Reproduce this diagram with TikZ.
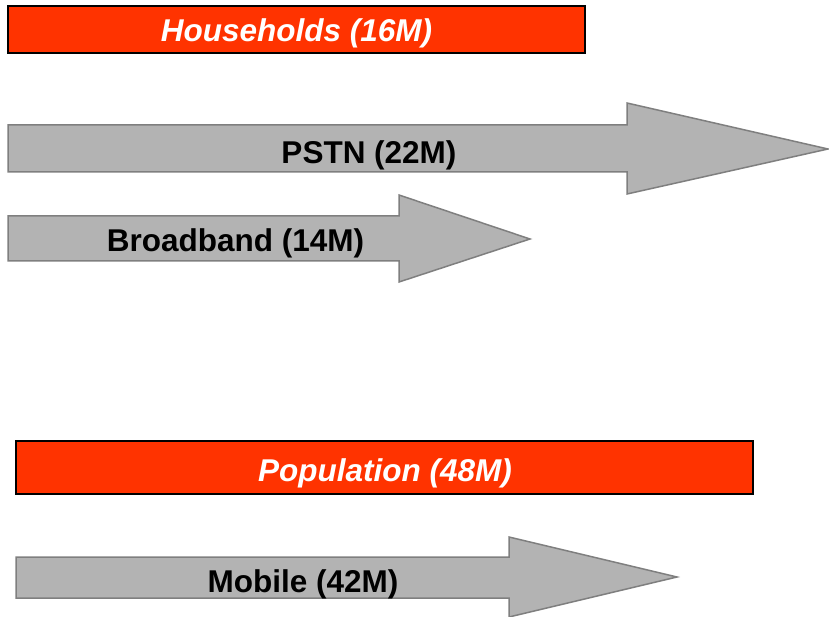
\documentclass[tikz,border=0pt]{standalone}
\usepackage{fontspec}
\setmainfont{Liberation Sans}
\definecolor{barred}{HTML}{FF3300}
\definecolor{arrowgray}{HTML}{B3B3B3}
\definecolor{arrowedge}{HTML}{7F7F7F}
\begin{document}
\begin{tikzpicture}[x=1pt,y=-1pt,
  bar/.style={fill=barred,draw=black,line width=2pt},
  bigarrow/.style={fill=arrowgray,draw=arrowedge,line width=1.5pt,line join=miter},
  bartext/.style={text=white,font=\fontsize{31.5}{36}\selectfont\bfseries\itshape,anchor=base,inner sep=0pt},
  arrowtext/.style={text=black,font=\fontsize{31.5}{36}\selectfont\bfseries,anchor=base,inner sep=0pt}]
\useasboundingbox (0,0) rectangle (829,617);
% Households bar
\draw[bar] (8,6) rectangle (585,53);
\node[bartext] (hh) at (296.5,42) {Households (16M)};
% PSTN arrow
\draw[bigarrow] (8,125) -- (627,125) -- (627,103) -- (828,149) -- (627,194) -- (627,172) -- (8,172) -- cycle;
\node[arrowtext] (pstn) at (369,164) {PSTN (22M)};
% Broadband arrow
\draw[bigarrow] (8,216) -- (399,216) -- (399,195) -- (530,239) -- (399,282) -- (399,261) -- (8,261) -- cycle;
\node[arrowtext] (bb) at (235.5,252) {Broadband (14M)};
% Population bar
\draw[bar] (16,441) rectangle (753,494);
\node[bartext] (pop) at (385,481) {Population (48M)};
% Mobile arrow
\draw[bigarrow] (16,557) -- (509,557) -- (509,537) -- (677,577) -- (509,617) -- (509,598) -- (16,598) -- cycle;
\node[arrowtext] (mob) at (303,592) {Mobile (42M)};
\end{tikzpicture}
\end{document}
